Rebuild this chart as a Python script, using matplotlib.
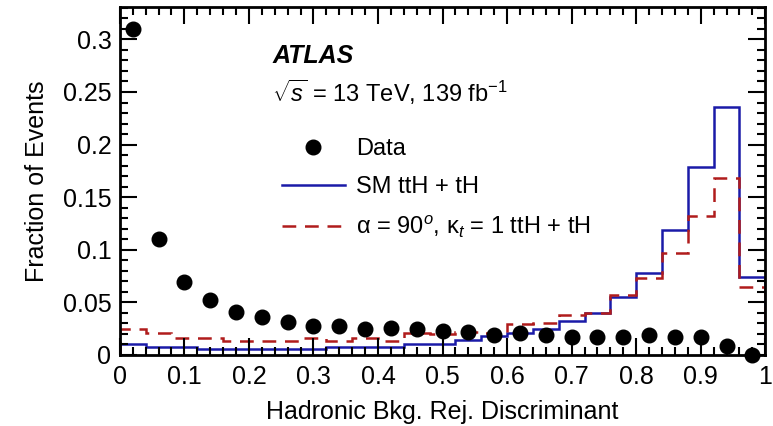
import numpy as np
import matplotlib
matplotlib.use("Agg")
import matplotlib.pyplot as plt
from matplotlib.ticker import MultipleLocator, FixedFormatter, FixedLocator
from matplotlib.lines import Line2D

plt.rcParams['font.family'] = ['Liberation Sans', 'DejaVu Sans']
plt.rcParams['mathtext.fontset'] = 'custom'
plt.rcParams['mathtext.rm'] = 'Liberation Sans'
plt.rcParams['mathtext.it'] = 'Liberation Sans:italic'

# 25 bins of width 0.04 on the discriminant
bin_edges = np.linspace(0.0, 1.0, 26)
bin_centres = 0.5 * (bin_edges[:-1] + bin_edges[1:])

data_frac = [0.310, 0.110, 0.069, 0.052, 0.041, 0.036, 0.031, 0.027, 0.027, 0.025,
             0.026, 0.025, 0.023, 0.022, 0.019, 0.021, 0.019, 0.017, 0.017, 0.017,
             0.019, 0.017, 0.017, 0.008, 0.0]
sm_frac = [0.0105, 0.0077, 0.0077, 0.0053, 0.0053, 0.0053, 0.0053, 0.0053, 0.0073, 0.0073,
           0.0073, 0.0105, 0.0105, 0.0145, 0.0175, 0.021, 0.025, 0.032, 0.040, 0.055,
           0.078, 0.119, 0.179, 0.236, 0.074]
cp_frac = [0.025, 0.021, 0.016, 0.016, 0.013, 0.013, 0.013, 0.016, 0.013, 0.016,
           0.013, 0.021, 0.020, 0.022, 0.021, 0.029, 0.030, 0.038, 0.040, 0.057,
           0.073, 0.097, 0.132, 0.168, 0.065]

blue = '#1a1aa8'
red = '#b01c1c'
dash = (0, (5.5, 3.5))

fig = plt.figure(figsize=(7.73, 4.26), dpi=100)
ax = fig.add_axes([0.155, 0.167, 0.835, 0.817])

ax.stairs(sm_frac, bin_edges, color=blue, lw=1.8)
ax.stairs(cp_frac, bin_edges, color=red, lw=1.8, linestyle=dash)
ax.plot(bin_centres, data_frac, 'o', color='black', ms=10.5, clip_on=False, zorder=5)

ax.set_xlim(0, 1)
ax.set_ylim(0, 0.331)

ax.xaxis.set_major_locator(FixedLocator([0, 0.1, 0.2, 0.3, 0.4, 0.5, 0.6, 0.7, 0.8, 0.9, 1.0]))
ax.xaxis.set_major_formatter(FixedFormatter(['0', '0.1', '0.2', '0.3', '0.4', '0.5', '0.6', '0.7', '0.8', '0.9', '1']))
ax.xaxis.set_minor_locator(MultipleLocator(0.02))
ax.yaxis.set_major_locator(FixedLocator([0, 0.05, 0.1, 0.15, 0.2, 0.25, 0.3]))
ax.yaxis.set_major_formatter(FixedFormatter(['0', '0.05', '0.1', '0.15', '0.2', '0.25', '0.3']))
ax.yaxis.set_minor_locator(MultipleLocator(0.01))

ax.tick_params(which='both', direction='in', top=True, right=True, labelsize=18, width=1.5)
ax.tick_params(which='major', length=12)
ax.tick_params(which='minor', length=6)
ax.tick_params(axis='x', pad=7)
ax.tick_params(axis='y', pad=6)
for s in ax.spines.values():
    s.set_linewidth(2)

ax.set_xlabel('Hadronic Bkg. Rej. Discriminant', fontsize=18, labelpad=8)
ax.set_ylabel('Fraction of Events', fontsize=18, labelpad=10)

ax.text(0.236, 0.86, 'ATLAS', transform=ax.transAxes, fontsize=18, fontweight='bold',
        fontstyle='italic', va='center')
ax.text(0.236, 0.755, r'$\sqrt{s}$ = 13 TeV, 139 fb$^{-1}$', transform=ax.transAxes,
        fontsize=17, va='center')

handles = [Line2D([], [], marker='o', color='black', ls='none', ms=10.5),
           Line2D([], [], color=blue, lw=1.8),
           Line2D([], [], color=red, lw=1.8, linestyle=dash)]
labels = ['Data', 'SM ttH + tH', r'α = 90$^{o}$, κ$_{t}$ = 1 ttH + tH']
ax.legend(handles, labels, loc='upper left', bbox_to_anchor=(0.236, 0.65), frameon=False,
          fontsize=17, handlelength=2.7, handletextpad=0.45, labelspacing=0.68,
          borderaxespad=0)

fig.savefig('out.png', dpi=100)
